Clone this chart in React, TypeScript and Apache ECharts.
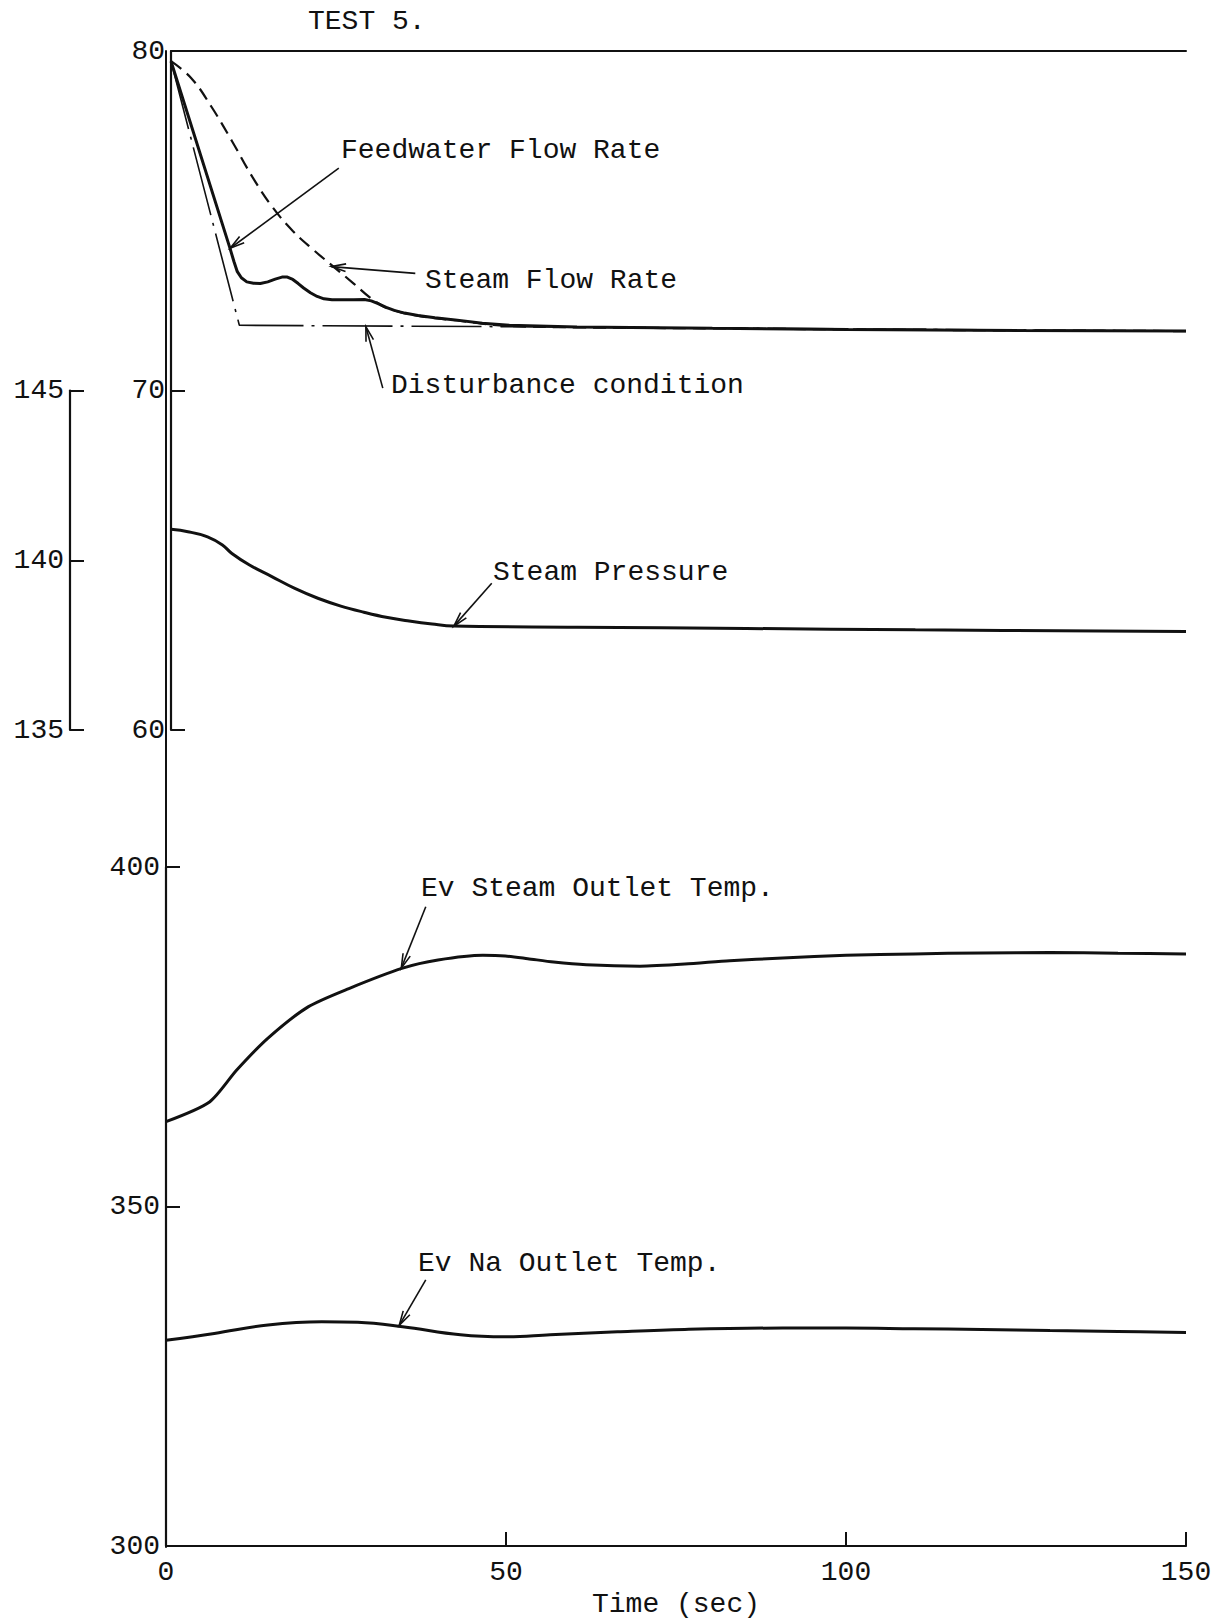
import { useEffect, useRef } from "react";
import * as echarts from "echarts";

// ---- axis ticks ----
const timeTicks = [0, 50, 100, 150];
const flowTicks = [60, 70, 80];
const pressureTicks = [135, 140, 145];
const tempTicks = [300, 350, 400];
// hidden pressure scale sharing the flow panel: 135..155 over the full 60..80 height
const pressureSpan = [135, 155];

type Pt = [number, number];

// ---- upper panel: flow rates (time s, value) ----
const disturbanceCondition: Pt[] = [
  [0, 79.7], [10.1, 71.92], [50, 71.88], [150, 71.75],
];

const feedwaterFlowRate: Pt[] = [
  [0, 79.7], [8.7, 74.2], [9.3, 73.8], [9.8, 73.5], [10.4, 73.32], [11.2, 73.2], [12.2, 73.16],
  [13.2, 73.15], [14.3, 73.2], [15.4, 73.28], [16.4, 73.34], [17.2, 73.34], [18, 73.27],
  [18.8, 73.15], [19.6, 73.02], [20.6, 72.88], [21.6, 72.77], [22.6, 72.7], [23.8, 72.67],
  [27, 72.67], [28.6, 72.68], [29.6, 72.64], [30.6, 72.56], [31.8, 72.45], [33, 72.36],
  [34.5, 72.28], [36.5, 72.21], [39, 72.14], [42, 72.08], [46, 71.98], [50, 71.92],
  [60, 71.87], [80, 71.83], [100, 71.8], [125, 71.77], [150, 71.75],
];

const steamFlowRate: Pt[] = [
  [0, 79.7], [3, 79.2], [6, 78.35], [9, 77.35], [12, 76.3], [15, 75.4], [18, 74.7],
  [21, 74.15], [24, 73.65], [27, 73.15], [29.5, 72.72], [31, 72.52], [32, 72.42],
  [34, 72.3], [36, 72.22], [39, 72.13], [42, 72.07], [46, 71.97], [50, 71.9],
  [60, 71.86], [80, 71.83], [100, 71.8], [125, 71.77], [150, 71.75],
];

const steamPressure: Pt[] = [
  [0, 140.91], [2.5, 140.84], [5.4, 140.69], [7.6, 140.45], [9, 140.2], [11.6, 139.86],
  [14.9, 139.52], [18.3, 139.17], [21.7, 138.88], [25.1, 138.65], [28.5, 138.47],
  [31.8, 138.32], [35.2, 138.21], [38.6, 138.12], [41.7, 138.06], [60, 138.03],
  [85, 137.99], [110, 137.95], [150, 137.9],
];

// ---- lower panel: temperatures ----
const evSteamOutletTemp: Pt[] = [
  [0, 362.5], [6.4, 365.4], [10.4, 370.1], [15, 374.8], [20.9, 379.4], [26.9, 382.1],
  [34.8, 385.1], [40, 386.3], [46.6, 387.0], [49.9, 386.9], [53.2, 386.5], [57, 386.0],
  [61.8, 385.6], [69.7, 385.4], [76.3, 385.7], [82.9, 386.2], [90.7, 386.6], [100, 387.0],
  [110, 387.2], [120, 387.35], [130, 387.4], [140, 387.3], [150, 387.2],
];

const evNaOutletTemp: Pt[] = [
  [0, 330.3], [7.1, 331.3], [15, 332.55], [22.9, 333.03], [28.2, 332.95], [34.8, 332.3],
  [43.3, 331.1], [49.9, 330.8], [56.5, 331.1], [66.4, 331.55], [76.3, 331.9],
  [90.7, 332.1], [100, 332.1], [110, 332.0], [120, 331.9], [130, 331.75], [140, 331.6],
  [150, 331.45],
];

// ---- leader arrows, [tail, tip] in data units ----
const feedwaterArrow: Pt[] = [[24.8, 76.55], [8.75, 74.19]];
const steamFlowArrow: Pt[] = [[36.1, 73.45], [23.7, 73.65]];
const disturbanceArrow: Pt[] = [[31.3, 70.07], [28.8, 71.88]];
const pressureArrow: Pt[] = [[47.4, 139.32], [41.8, 138.06]];
const evSteamArrow: Pt[] = [[38.2, 394.15], [34.6, 385.1]];
const evNaArrow: Pt[] = [[38.2, 339.2], [34.3, 332.5]];

const FONT = '"Liberation Mono", "DejaVu Sans Mono", monospace';
const INK = "#111111";
const FS = 28;

const labelStyle = { fontFamily: FONT, fontSize: FS, color: INK };

function arrowHead(tip: number[], tail: number[], len = 15, spread = 0.26): number[][] {
  const a = Math.atan2(tail[1] - tip[1], tail[0] - tip[0]);
  return [
    [tip[0] + len * Math.cos(a + spread), tip[1] + len * Math.sin(a + spread)],
    [tip[0], tip[1]],
    [tip[0] + len * Math.cos(a - spread), tip[1] + len * Math.sin(a - spread)],
  ];
}

function valueAxisY(gridIndex: number, ticks: number[], opts: any = {}) {
  return {
    type: "value",
    gridIndex,
    min: ticks[0],
    max: ticks[ticks.length - 1],
    interval: ticks[1] - ticks[0],
    position: "left",
    axisLine: { show: true, lineStyle: { color: INK, width: 2.2 } },
    axisTick: { show: true, inside: true, length: 14, lineStyle: { color: INK, width: 2 } },
    axisLabel: { ...labelStyle, margin: 6, padding: [0, 0, 10, 0] },
    splitLine: { show: false },
    ...opts,
  };
}

export default function App() {
  const ref = useRef<HTMLDivElement>(null);

  useEffect(() => {
    if (!ref.current) return;
    const chart = echarts.init(ref.current, null, { renderer: "svg" });

    const line = (name: string, data: Pt[], xi: number, yi: number, style: any, smooth: any = 0.4) => ({
      name,
      type: "line",
      data,
      xAxisIndex: xi,
      yAxisIndex: yi,
      showSymbol: false,
      symbol: "none",
      smooth,
      lineStyle: { color: INK, ...style },
      z: 3,
    });

    chart.setOption({
      animation: false,
      backgroundColor: "#ffffff",
      grid: [
        { left: 171, top: 51, width: 1015, height: 679 },
        { left: 70, top: 390.5, width: 10, height: 339.5 },
        { left: 166, top: 867, width: 1020, height: 679 },
        { left: 166, top: 51, width: 1020, height: 1496 },
      ],
      xAxis: [
        {
          type: "value", gridIndex: 0, min: timeTicks[0], max: timeTicks[timeTicks.length - 1],
          position: "top",
          axisLine: { show: true, lineStyle: { color: INK, width: 2 } },
          axisTick: { show: false }, axisLabel: { show: false }, splitLine: { show: false },
        },
        { type: "value", gridIndex: 1, min: 0, max: 1, show: false },
        {
          type: "value", gridIndex: 2, min: timeTicks[0], max: timeTicks[timeTicks.length - 1],
          interval: timeTicks[1] - timeTicks[0],
          position: "bottom",
          axisLine: { show: true, lineStyle: { color: INK, width: 2.2 } },
          axisTick: { show: true, inside: true, length: 14, lineStyle: { color: INK, width: 2 } },
          axisLabel: { ...labelStyle, margin: 12 },
          splitLine: { show: false },
          name: "Time (sec)",
          nameLocation: "middle",
          nameGap: 44,
          nameTextStyle: { ...labelStyle },
        },
        { type: "value", gridIndex: 3, min: 0, max: 1, show: false },
      ],
      yAxis: [
        valueAxisY(0, flowTicks),
        { type: "value", gridIndex: 0, min: pressureSpan[0], max: pressureSpan[1], show: false },
        valueAxisY(1, pressureTicks),
        valueAxisY(2, tempTicks),
        {
          type: "value", gridIndex: 3, min: 0, max: 1, position: "right",
          axisLine: { show: true, lineStyle: { color: INK, width: 2 } },
          axisTick: { show: false }, axisLabel: { show: false }, splitLine: { show: false },
        },
      ],
      series: [
        line("Disturbance condition", disturbanceCondition, 0, 0, { width: 1.6, type: [70, 8, 3, 8] }, false),
        line("Feedwater Flow Rate", feedwaterFlowRate, 0, 0, { width: 3 }, false),
        line("Steam Flow Rate", steamFlowRate, 0, 0, { width: 2.2, type: [13, 7] }),
        line("Steam Pressure", steamPressure, 0, 1, { width: 3 }),
        line("Ev Steam Outlet Temp.", evSteamOutletTemp, 2, 3, { width: 3 }, 0.25),
        line("Ev Na Outlet Temp.", evNaOutletTemp, 2, 3, { width: 3 }),
      ],
    });

    const toPx = (seriesIndex: number, p: Pt) =>
      chart.convertToPixel({ seriesIndex }, p) as unknown as number[];

    const arrows: [number, Pt[]][] = [
      [1, feedwaterArrow],
      [1, steamFlowArrow],
      [1, disturbanceArrow],
      [3, pressureArrow],
      [4, evSteamArrow],
      [4, evNaArrow],
    ];

    const graphics: any[] = [];
    arrows.forEach(([si, [tail, tip]]) => {
      const a = toPx(si, tail);
      const b = toPx(si, tip);
      graphics.push({
        type: "line",
        shape: { x1: a[0], y1: a[1], x2: b[0], y2: b[1] },
        style: { stroke: INK, lineWidth: 1.6 },
        z: 10,
      });
      graphics.push({
        type: "polyline",
        shape: { points: arrowHead(b, a) },
        style: { stroke: INK, lineWidth: 1.6, fill: null },
        z: 10,
      });
    });

    const texts: [string, number, number][] = [
      ["TEST 5.", 308, 21],
      ["Feedwater Flow Rate", 341, 150],
      ["Steam Flow Rate", 425, 280],
      ["Disturbance condition", 391, 385],
      ["Steam Pressure", 493, 572],
      ["Ev Steam Outlet Temp.", 421, 888],
      ["Ev Na Outlet Temp.", 418, 1263],
    ];
    texts.forEach(([t, x, y]) => {
      graphics.push({
        type: "text",
        x,
        y,
        style: { text: t, fontFamily: FONT, fontSize: FS, fill: INK, align: "left", verticalAlign: "middle" },
        z: 10,
      });
    });

    chart.setOption({ graphic: graphics });

    return () => chart.dispose();
  }, []);

  return (
    <div
      ref={ref}
      style={{ position: "absolute", left: 0, top: 0, width: 1218, height: 1622, background: "#fff" }}
    />
  );
}
